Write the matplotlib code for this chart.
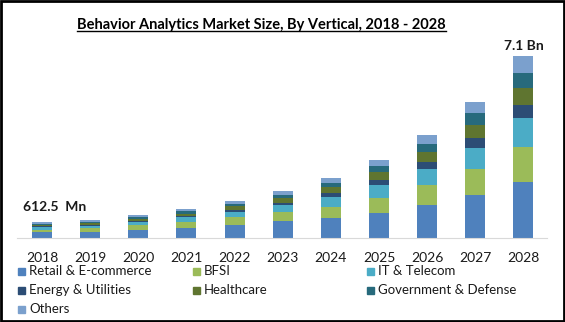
import numpy as np
import matplotlib
matplotlib.use("Agg")
import matplotlib.pyplot as plt
from matplotlib.patches import Rectangle

# Данные (млрд долл.)
years = ["2018", "2019", "2020", "2021", "2022", "2023", "2024", "2025", "2026", "2027", "2028"]
verticals = ["Retail & E-commerce", "BFSI", "IT & Telecom", "Energy & Utilities",
             "Healthcare", "Government & Defense", "Others"]
retail = [0.22, 0.25, 0.32, 0.40, 0.52, 0.65, 0.79, 0.98, 1.30, 1.68, 2.19]
bfsi = [0.11, 0.13, 0.17, 0.23, 0.29, 0.36, 0.43, 0.58, 0.78, 1.01, 1.37]
it_telecom = [0.09, 0.10, 0.13, 0.17, 0.22, 0.28, 0.39, 0.51, 0.62, 0.82, 1.13]
energy = [0.03, 0.035, 0.04, 0.05, 0.07, 0.09, 0.16, 0.19, 0.27, 0.39, 0.49]
healthcare = [0.06, 0.065, 0.08, 0.10, 0.13, 0.17, 0.23, 0.31, 0.39, 0.51, 0.67]
government = [0.05, 0.06, 0.075, 0.09, 0.11, 0.14, 0.16, 0.23, 0.31, 0.47, 0.58]
others = [0.0525, 0.06, 0.075, 0.09, 0.10, 0.14, 0.19, 0.23, 0.35, 0.43, 0.67]
first_label = "612.5  Mn"
last_label = "7.1 Bn"

series = [retail, bfsi, it_telecom, energy, healthcare, government, others]
colors = ["#4F81BD", "#9BBB59", "#4BACC6", "#2C4D75", "#5F7530", "#276A7C", "#7BA0CD"]

plt.rcParams["font.family"] = ["Lato", "DejaVu Sans"]

fig = plt.figure(figsize=(5.65, 3.22), dpi=100)
ax = fig.add_axes([17 / 565, 1 - 238 / 322, 530 / 565, 193 / 322])

x = np.arange(len(years))
bottom = np.zeros(len(years))
for values, color in zip(series, colors):
    ax.bar(x, values, 0.415, bottom=bottom, color=color)
    bottom += np.array(values)

ax.set_xlim(-0.52, len(years) - 0.51)
ax.set_ylim(0, bottom[-1] * 193 / 182.3)
ax.set_xticks(x, years)
ax.tick_params(axis="x", length=0, pad=10, labelsize=10, labelcolor="#1a1a1a")
ax.set_yticks([])
for side in ["top", "left", "right"]:
    ax.spines[side].set_visible(False)
ax.spines["bottom"].set_color("#d9d9d9")

# Подписи первого и последнего столбца
ax.annotate(first_label, (x[0], bottom[0]), xytext=(-14, 7), textcoords="offset points",
            fontsize=10, fontweight="bold", ha="left", va="bottom", color="#1a1a1a")
ax.annotate(last_label, (x[-1], bottom[-1]), xytext=(0, 3), textcoords="offset points",
            fontsize=10, fontweight="bold", ha="center", va="bottom", color="#1a1a1a")

# Заголовок
title = fig.text(0.463, 1 - 25 / 322, "Behavior Analytics Market Size, By Vertical, 2018 - 2028",
                 fontsize=10.5, fontweight="bold", ha="center", va="center")

# Легенда по строкам
col_x = [18, 193, 367]
row_y = [271, 290, 309]
for i, (name, color) in enumerate(zip(verticals, colors)):
    cx = col_x[i % 3]
    cy = row_y[i // 3]
    fig.patches.append(Rectangle((cx / 565, 1 - (cy + 3.5) / 322), 7 / 565, 7 / 322,
                                 transform=fig.transFigure, color=color))
    fig.text((cx + 11) / 565, 1 - cy / 322, name, fontsize=9.5, ha="left", va="center",
             color="#1a1a1a")

# Рамка
fig.patches.append(Rectangle((0.002, 0.003), 0.996, 0.994, transform=fig.transFigure,
                             fill=False, edgecolor="black", linewidth=2))

# Подчеркивание заголовка
fig.canvas.draw()
bb = title.get_window_extent().transformed(fig.transFigure.inverted())
fig.add_artist(plt.Line2D([bb.x0, bb.x1], [bb.y0 + 0.003, bb.y0 + 0.003],
                          transform=fig.transFigure, color="black", linewidth=1))

fig.savefig("out.png", dpi=100)
